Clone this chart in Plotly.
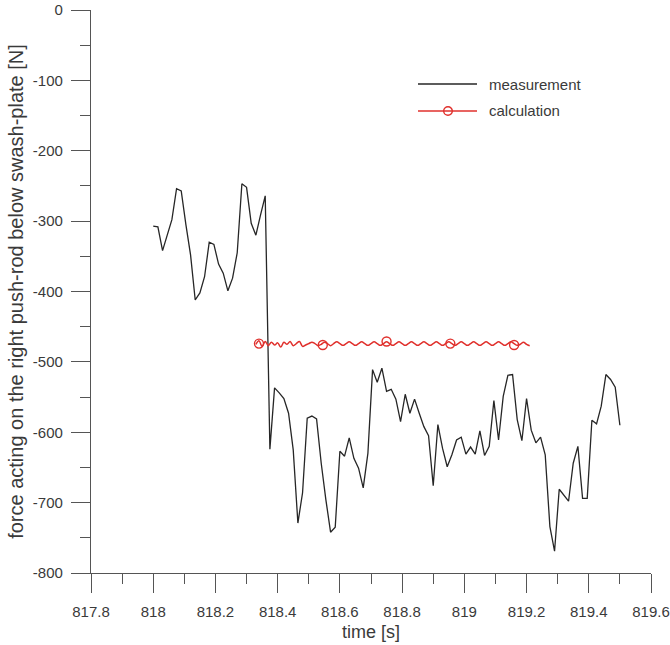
import plotly.graph_objects as go

# ---- data ----
meas_t0 = 818.0
meas_dt = 0.015
measurement = [
    -307, -308, -342, -320, -298, -254, -257, -305, -348, -412,
    -402, -379, -330, -333, -361, -374, -399, -381, -345, -247,
    -252, -303, -320, -291, -264, -624, -537, -544, -552, -573,
    -625, -729, -686, -580, -577, -581, -644, -696, -742, -735,
    -627, -634, -608, -637, -651, -679, -630, -511, -529, -509,
    -542, -539, -553, -585, -546, -573, -553, -573, -592, -605,
    -676, -589, -623, -649, -632, -611, -607, -631, -621, -631,
    -598, -633, -620, -555, -611, -549, -519, -518, -582, -612,
    -552, -597, -615, -607, -632, -734, -769, -681, -689, -698,
    -644, -620, -694, -694, -583, -588, -563, -518, -525, -536,
    -590,
]
meas_time = [round(meas_t0 + i * meas_dt, 4) for i in range(len(measurement))]

calc_t0 = 818.33
calc_dt = 0.01
calculation = [
    -475, -470, -478, -471, -477, -472, -476, -473, -479, -472,
    -475, -471, -477, -474, -471, -478, -476, -474, -472, -474,
    -477, -475, -472, -474, -477, -474, -471.5, -474, -476.5, -474,
    -471.5, -474, -476.5, -474, -471.5, -474, -476.5, -474, -471.5, -474,
    -476.5, -474, -471.5, -474, -476.5, -474, -471.5, -474, -476.5, -474,
    -471.5, -474, -476.5, -474, -471.5, -474, -476.5, -474, -471.5, -474,
    -476.5, -474, -471.5, -474, -476.5, -474, -471.5, -474, -476.5, -474,
    -471.5, -474, -476.5, -474, -471.5, -474, -476.5, -474, -471.5, -474,
    -476.5, -474, -471.5, -474, -476.5, -475, -472, -475, -477,
]
calc_time = [round(calc_t0 + i * calc_dt, 4) for i in range(len(calculation))]

marker_time = [818.34, 818.545, 818.75, 818.955, 819.16]
marker_vals = [-474, -476, -471, -474, -476]

x_ticks = [817.8, 818, 818.2, 818.4, 818.6, 818.8, 819, 819.2, 819.4, 819.6]
x_labels = ["817.8", "818", "818.2", "818.4", "818.6", "818.8", "819", "819.2", "819.4", "819.6"]
y_ticks = [0, -100, -200, -300, -400, -500, -600, -700, -800]
y_labels = ["0", "-100", "-200", "-300", "-400", "-500", "-600", "-700", "-800"]

legend_names = ["measurement", "calculation"]

BLACK = "#262626"
RED = "#e0302c"
AXIS = "#555555"
TEXT = "#3a3a3a"
FONT = "Liberation Sans, Arial, sans-serif"

fig = go.Figure()
fig.add_trace(go.Scatter(x=meas_time, y=measurement, mode="lines",
                         line=dict(color=BLACK, width=1.3), showlegend=False))
fig.add_trace(go.Scatter(x=calc_time, y=calculation, mode="lines",
                         line=dict(color=RED, width=1.5, shape="spline", smoothing=1.0),
                         showlegend=False))
fig.add_trace(go.Scatter(x=marker_time, y=marker_vals, mode="markers",
                         marker=dict(symbol="circle-open", size=9, color=RED,
                                     line=dict(color=RED, width=1.4)),
                         showlegend=False))

W, H = 670, 645
L, R, T, B = 91, 19, 10, 72
pw, ph = W - L - R, H - T - B


def px(xp):
    return (xp - L) / pw


def py(yp):
    return (H - B - yp) / ph


# manual legend
leg_rows = [(84, BLACK, 1.3, False), (111, RED, 1.5, True)]
for (yy, col, wd, mark), name in zip(leg_rows, legend_names):
    fig.add_shape(type="line", xref="paper", yref="paper",
                  x0=px(418), x1=px(477), y0=py(yy), y1=py(yy),
                  line=dict(color=col, width=wd))
    if mark:
        fig.add_shape(type="circle", xref="paper", yref="paper",
                      xsizemode="pixel", ysizemode="pixel",
                      xanchor=px(448), yanchor=py(yy),
                      x0=-4.3, x1=4.3, y0=-4.3, y1=4.3,
                      line=dict(color=col, width=1.4), fillcolor="rgba(0,0,0,0)")
    fig.add_annotation(xref="paper", yref="paper", x=px(487), y=py(yy),
                       xanchor="left", yanchor="middle", showarrow=False,
                       text=name, font=dict(family=FONT, size=15, color=TEXT))

axis_common = dict(showline=True, linecolor=AXIS, linewidth=1.2, ticks="outside",
                   tickcolor=AXIS, tickwidth=1.2, ticklen=19, showgrid=False,
                   zeroline=False, ticklabeloverflow="allow",
                   tickfont=dict(family=FONT, size=15, color=TEXT))

fig.update_xaxes(range=[817.8, 819.6], tickvals=x_ticks, ticktext=x_labels,
                 ticklabelstandoff=6,
                 minor=dict(dtick=0.1, tick0=817.8, ticks="outside", ticklen=10,
                            tickcolor=AXIS, tickwidth=1.2, showgrid=False),
                 title=dict(text="time [s]", standoff=6,
                            font=dict(family=FONT, size=18, color=TEXT)),
                 **axis_common)
fig.update_yaxes(range=[-800, 0], tickvals=y_ticks, ticktext=y_labels,
                 ticklabelstandoff=5,
                 minor=dict(dtick=50, tick0=0, ticks="outside", ticklen=10,
                            tickcolor=AXIS, tickwidth=1.2, showgrid=False),
                 title=dict(text="force acting on the right push-rod below swash-plate [N]",
                            standoff=3, font=dict(family=FONT, size=20, color=TEXT)),
                 **axis_common)

fig.update_layout(width=W, height=H, margin=dict(l=L, r=R, t=T, b=B, autoexpand=False),
                  plot_bgcolor="white", paper_bgcolor="white", showlegend=False)

fig.write_html("out.html", config={"displayModeBar": False},
               post_script="document.body.style.margin='0px';")
